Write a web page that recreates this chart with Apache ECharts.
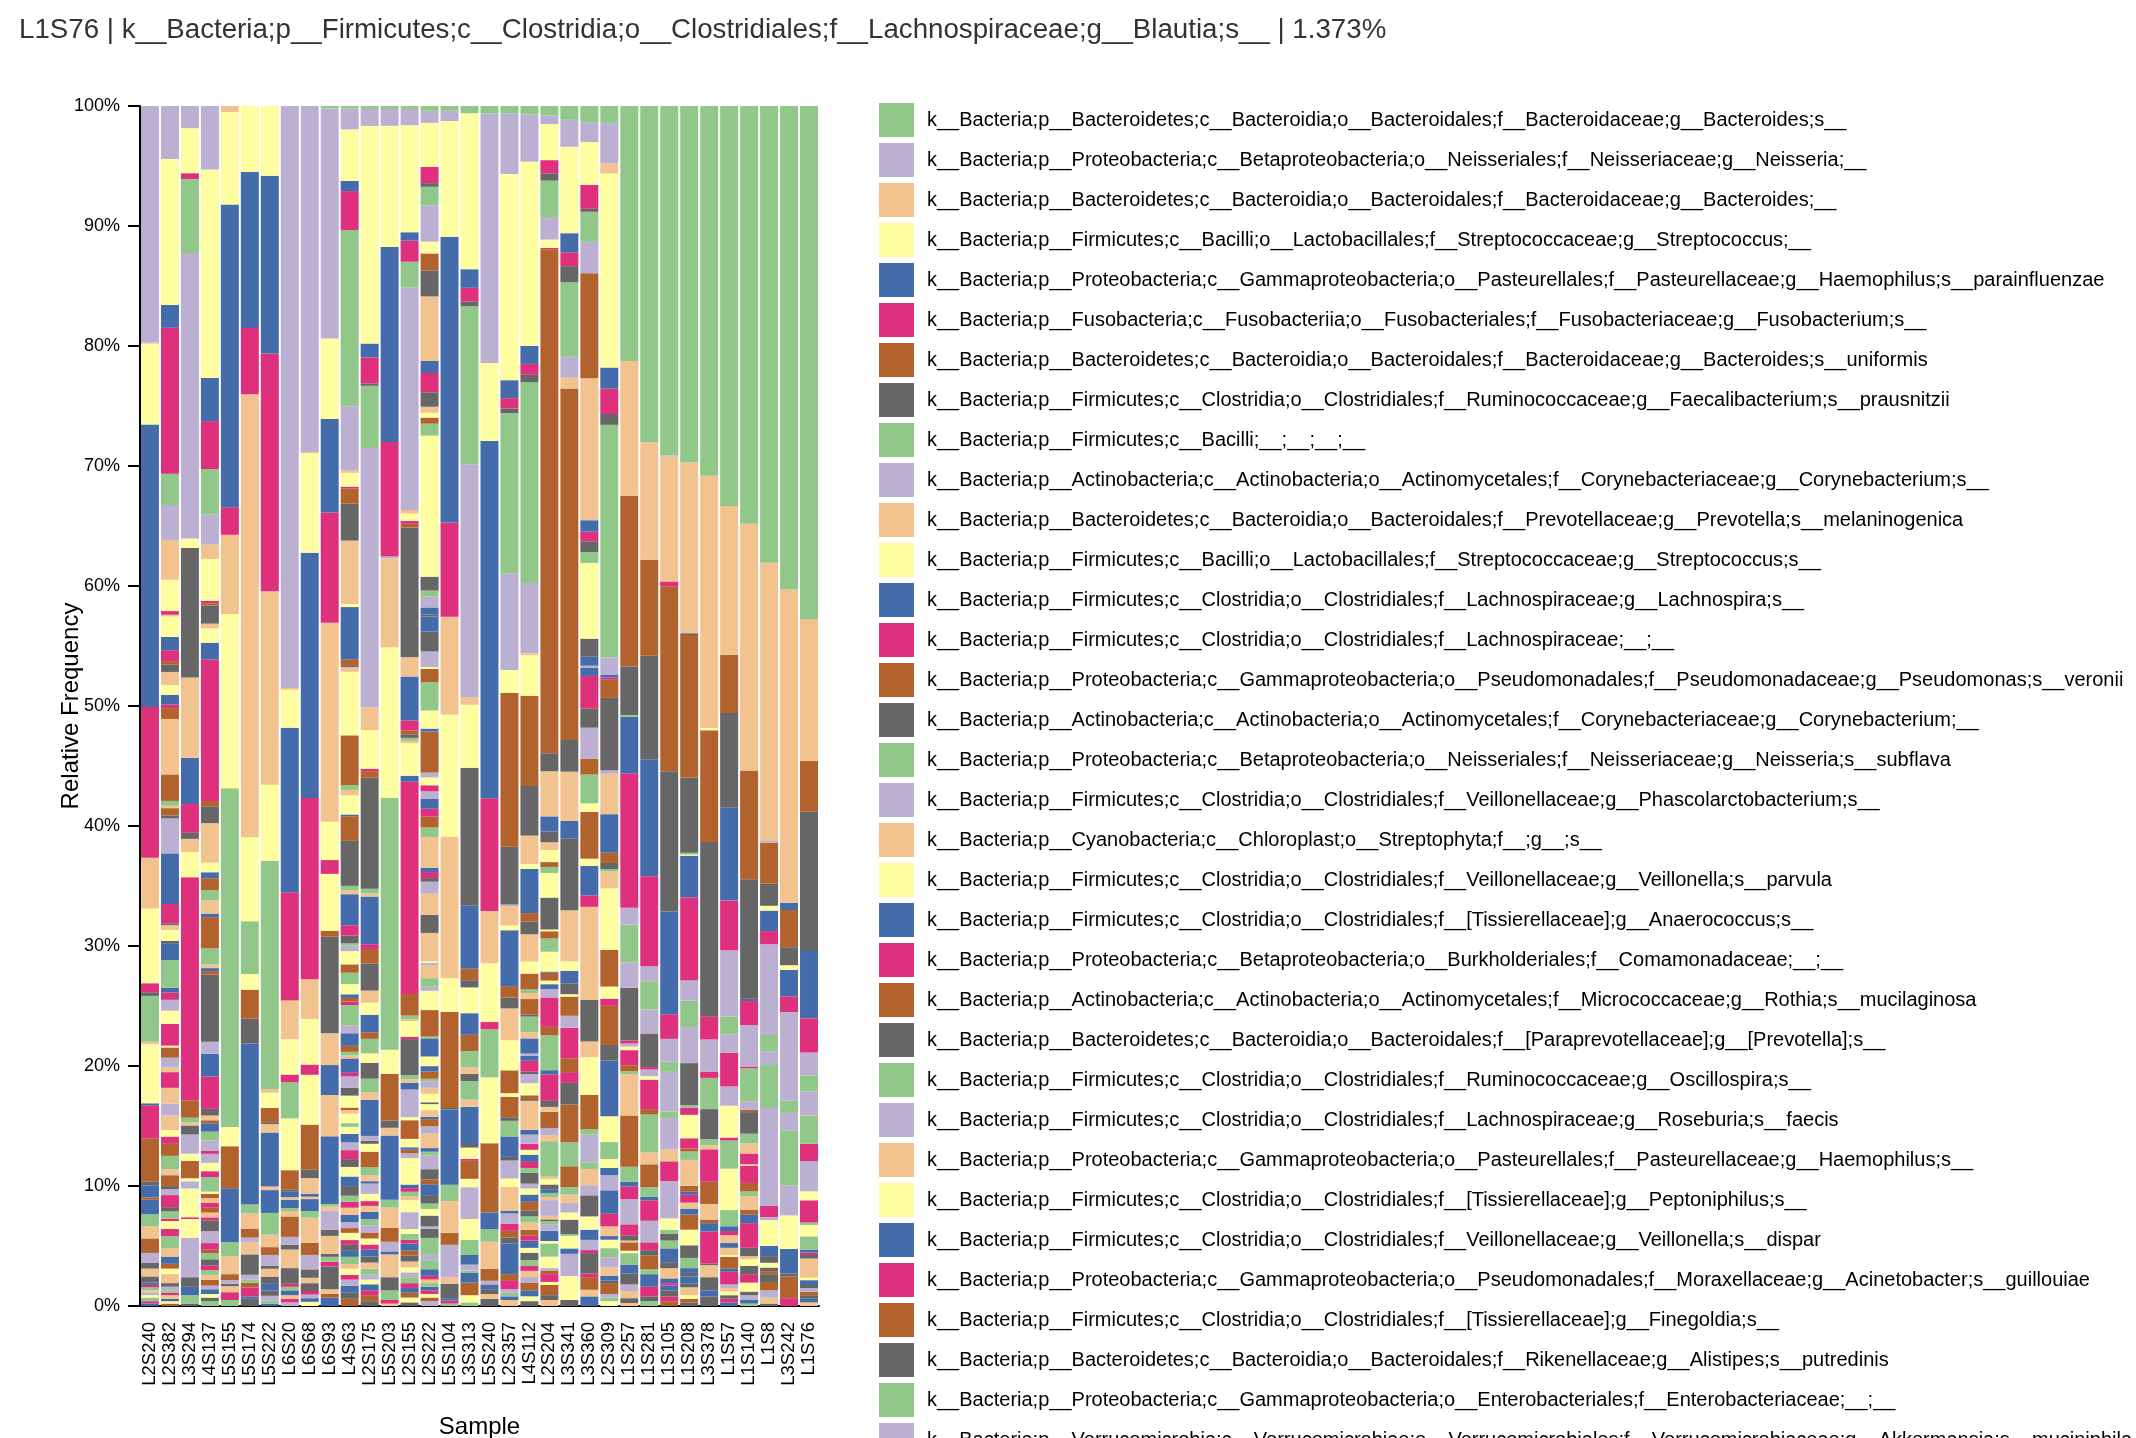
<!DOCTYPE html>
<html><head><meta charset="utf-8">
<script src="https://cdn.jsdelivr.net/npm/echarts/dist/echarts.min.js"></script>
<style>html,body{margin:0;padding:0;background:#fff}#chart{width:2136px;height:1438px}</style>
</head><body><div id="chart"></div>
<script>
const samples = ["L2S240","L2S382","L3S294","L4S137","L5S155","L5S174","L5S222","L6S20","L6S68","L6S93","L4S63","L2S175","L5S203","L2S155","L2S222","L5S104","L3S313","L5S240","L2S357","L4S112","L2S204","L3S341","L3S360","L2S309","L1S257","L1S281","L1S105","L1S208","L3S378","L1S57","L1S140","L1S8","L3S242","L1S76"];

const taxa = [
"k__Bacteria;p__Bacteroidetes;c__Bacteroidia;o__Bacteroidales;f__Bacteroidaceae;g__Bacteroides;s__",
"k__Bacteria;p__Proteobacteria;c__Betaproteobacteria;o__Neisseriales;f__Neisseriaceae;g__Neisseria;__",
"k__Bacteria;p__Bacteroidetes;c__Bacteroidia;o__Bacteroidales;f__Bacteroidaceae;g__Bacteroides;__",
"k__Bacteria;p__Firmicutes;c__Bacilli;o__Lactobacillales;f__Streptococcaceae;g__Streptococcus;__",
"k__Bacteria;p__Proteobacteria;c__Gammaproteobacteria;o__Pasteurellales;f__Pasteurellaceae;g__Haemophilus;s__parainfluenzae",
"k__Bacteria;p__Fusobacteria;c__Fusobacteriia;o__Fusobacteriales;f__Fusobacteriaceae;g__Fusobacterium;s__",
"k__Bacteria;p__Bacteroidetes;c__Bacteroidia;o__Bacteroidales;f__Bacteroidaceae;g__Bacteroides;s__uniformis",
"k__Bacteria;p__Firmicutes;c__Clostridia;o__Clostridiales;f__Ruminococcaceae;g__Faecalibacterium;s__prausnitzii",
"k__Bacteria;p__Firmicutes;c__Bacilli;__;__;__;__",
"k__Bacteria;p__Actinobacteria;c__Actinobacteria;o__Actinomycetales;f__Corynebacteriaceae;g__Corynebacterium;s__",
"k__Bacteria;p__Bacteroidetes;c__Bacteroidia;o__Bacteroidales;f__Prevotellaceae;g__Prevotella;s__melaninogenica",
"k__Bacteria;p__Firmicutes;c__Bacilli;o__Lactobacillales;f__Streptococcaceae;g__Streptococcus;s__",
"k__Bacteria;p__Firmicutes;c__Clostridia;o__Clostridiales;f__Lachnospiraceae;g__Lachnospira;s__",
"k__Bacteria;p__Firmicutes;c__Clostridia;o__Clostridiales;f__Lachnospiraceae;__;__",
"k__Bacteria;p__Proteobacteria;c__Gammaproteobacteria;o__Pseudomonadales;f__Pseudomonadaceae;g__Pseudomonas;s__veronii",
"k__Bacteria;p__Actinobacteria;c__Actinobacteria;o__Actinomycetales;f__Corynebacteriaceae;g__Corynebacterium;__",
"k__Bacteria;p__Proteobacteria;c__Betaproteobacteria;o__Neisseriales;f__Neisseriaceae;g__Neisseria;s__subflava",
"k__Bacteria;p__Firmicutes;c__Clostridia;o__Clostridiales;f__Veillonellaceae;g__Phascolarctobacterium;s__",
"k__Bacteria;p__Cyanobacteria;c__Chloroplast;o__Streptophyta;f__;g__;s__",
"k__Bacteria;p__Firmicutes;c__Clostridia;o__Clostridiales;f__Veillonellaceae;g__Veillonella;s__parvula",
"k__Bacteria;p__Firmicutes;c__Clostridia;o__Clostridiales;f__[Tissierellaceae];g__Anaerococcus;s__",
"k__Bacteria;p__Proteobacteria;c__Betaproteobacteria;o__Burkholderiales;f__Comamonadaceae;__;__",
"k__Bacteria;p__Actinobacteria;c__Actinobacteria;o__Actinomycetales;f__Micrococcaceae;g__Rothia;s__mucilaginosa",
"k__Bacteria;p__Bacteroidetes;c__Bacteroidia;o__Bacteroidales;f__[Paraprevotellaceae];g__[Prevotella];s__",
"k__Bacteria;p__Firmicutes;c__Clostridia;o__Clostridiales;f__Ruminococcaceae;g__Oscillospira;s__",
"k__Bacteria;p__Firmicutes;c__Clostridia;o__Clostridiales;f__Lachnospiraceae;g__Roseburia;s__faecis",
"k__Bacteria;p__Proteobacteria;c__Gammaproteobacteria;o__Pasteurellales;f__Pasteurellaceae;g__Haemophilus;s__",
"k__Bacteria;p__Firmicutes;c__Clostridia;o__Clostridiales;f__[Tissierellaceae];g__Peptoniphilus;s__",
"k__Bacteria;p__Firmicutes;c__Clostridia;o__Clostridiales;f__Veillonellaceae;g__Veillonella;s__dispar",
"k__Bacteria;p__Proteobacteria;c__Gammaproteobacteria;o__Pseudomonadales;f__Moraxellaceae;g__Acinetobacter;s__guillouiae",
"k__Bacteria;p__Firmicutes;c__Clostridia;o__Clostridiales;f__[Tissierellaceae];g__Finegoldia;s__",
"k__Bacteria;p__Bacteroidetes;c__Bacteroidia;o__Bacteroidales;f__Rikenellaceae;g__Alistipes;s__putredinis",
"k__Bacteria;p__Proteobacteria;c__Gammaproteobacteria;o__Enterobacteriales;f__Enterobacteriaceae;__;__",
"k__Bacteria;p__Verrucomicrobia;c__Verrucomicrobiae;o__Verrucomicrobiales;f__Verrucomicrobiaceae;g__Akkermansia;s__muciniphila"
];

// Color groups (legend cycles every 8): G green, P purple, O orange, Y yellow, B blue, K pink, R brown, D dark gray
const groupOrder = ["G","P","O","Y","B","K","R","D"];

// Segments of each sample, top to bottom: group, percent
const seg_L2S240 = ["P",19.6,"O",0.1,"Y",6.7,"B",23.4,"K",12.5,"O",4.2,"Y",6.2,"K",0.75,"D",0.3,"G",3.8,"O",0.2,"Y",4.9,"B",0.2,"K",2.7,"R",3.6,"D",0.3,"B",1.0,"R",0.2,"B",1.2,"G",1.0,"O",1.0,"R",1.2,"P",0.8,"D",0.5,"O",0.65,"D",0.5,"B",0.2,"K",0.2,"G",0.25,"O",0.2,"P",0.2,"Y",0.2,"G",0.3,"K",0.2,"B",0.2];
const seg_L2S382 = ["P",4.4,"Y",12.1,"B",1.9,"K",12.1,"G",2.6,"P",2.9,"O",3.3,"Y",2.6,"K",0.3,"O",0.15,"Y",1.7,"B",1.1,"K",0.9,"R",0.3,"D",0.6,"O",1.1,"Y",0.8,"B",0.8,"K",0.3,"R",0.9,"O",4.6,"R",2.2,"G",0.4,"O",0.2,"R",0.6,"D",0.25,"P",2.9,"B",4.2,"K",1.6,"D",0.15,"O",0.4,"Y",0.9,"D",0.2,"B",1.4,"G",2.3,"B",0.4,"K",0.6,"P",0.9,"Y",1.1,"K",1.8,"Y",0.15,"R",0.85,"P",0.8,"O",0.4,"K",1.3,"O",1.3,"P",1.0,"O",1.2,"Y",0.55,"K",0.6,"R",1.0,"G",1.1,"O",0.5,"R",0.9,"D",0.25,"P",0.5,"K",1.0,"D",0.35,"G",0.6,"K",0.2,"Y",0.65,"K",0.6,"G",1.0,"O",0.7,"B",0.6,"R",0.4,"Y",0.45,"O",0.75,"D",0.3,"P",0.3,"G",0.2,"K",0.2,"O",0.3,"B",0.2,"Y",0.2,"R",0.2];
const seg_L3S294 = ["P",1.85,"Y",3.75,"K",0.5,"G",6.15,"P",23.8,"Y",0.8,"D",10.8,"O",6.7,"B",3.85,"K",2.4,"D",0.5,"O",1.1,"Y",2.1,"K",18.6,"R",1.45,"G",0.4,"O",0.25,"D",0.75,"P",1.6,"Y",0.6,"R",1.45,"Y",0.25,"P",0.6,"Y",2.4,"K",0.15,"Y",1.55,"P",3.3,"D",0.8,"B",0.7,"G",0.7,"D",0.2];
const seg_L4S137 = ["P",5.3,"Y",17.4,"B",3.6,"K",4.0,"G",3.8,"P",2.5,"O",1.2,"Y",3.5,"K",0.2,"R",0.2,"D",1.5,"O",0.4,"Y",1.2,"B",1.4,"K",11.8,"R",0.45,"D",1.4,"O",3.3,"Y",0.8,"B",0.5,"R",1.0,"G",0.85,"O",1.1,"B",0.3,"R",2.6,"G",1.35,"O",0.3,"B",0.25,"R",0.3,"D",5.6,"P",1.0,"B",1.9,"K",2.7,"D",0.55,"O",0.4,"R",0.25,"B",0.7,"G",0.75,"P",0.85,"K",0.25,"P",0.75,"Y",0.7,"K",0.5,"G",1.2,"Y",0.2,"R",0.35,"O",0.4,"K",0.4,"R",0.4,"O",0.4,"K",0.25,"D",0.9,"P",1.0,"K",0.55,"R",0.3,"G",0.5,"D",0.5,"K",0.4,"G",0.4,"O",0.4,"R",0.5,"P",0.3,"B",0.4,"Y",0.3,"D",0.3,"G",0.4];
const seg_L5S155 = ["O",0.5,"Y",7.7,"B",25.2,"K",2.3,"O",6.6,"Y",14.5,"G",28.2,"Y",1.6,"R",3.5,"B",4.5,"G",1.15,"O",1.5,"R",0.5,"P",0.3,"D",0.2,"O",0.5,"K",0.65,"G",0.5];
const seg_L5S174 = ["Y",5.5,"B",13.0,"K",5.5,"O",36.9,"Y",7.0,"G",4.4,"Y",1.3,"R",2.4,"D",2.1,"B",13.4,"G",0.75,"O",1.25,"R",0.75,"P",0.4,"O",1.0,"D",1.7,"P",0.4,"G",0.25,"R",0.4,"K",0.75,"B",0.2,"D",0.6];
const seg_L5S222 = ["Y",5.8,"B",14.8,"K",19.8,"O",16.1,"Y",6.35,"G",19.0,"O",0.3,"Y",1.25,"R",1.2,"D",0.15,"O",0.7,"B",4.5,"O",0.3,"B",1.9,"G",1.8,"O",1.05,"R",0.65,"P",0.9,"D",0.25,"O",0.65,"D",0.55,"B",0.6,"D",0.45,"P",0.4,"G",0.25,"B",0.2];
const seg_L6S20 = ["P",48.4,"O",0.15,"Y",3.15,"B",13.7,"K",9.0,"O",3.2,"Y",2.95,"K",0.65,"G",3.0,"Y",4.3,"R",1.6,"D",0.2,"B",0.45,"O",0.2,"B",0.7,"G",0.25,"O",0.45,"R",1.7,"P",0.65,"D",0.4,"O",1.55,"D",1.3,"K",0.25,"G",0.3,"B",0.4,"O",0.3,"K",0.3,"P",0.3];
const seg_L6S68 = ["P",28.8,"O",0.1,"Y",8.3,"B",20.4,"K",15.1,"O",3.3,"Y",3.8,"K",0.85,"Y",4.15,"R",3.75,"D",0.7,"O",1.3,"B",0.25,"O",0.2,"B",1.0,"G",0.55,"O",2.1,"R",1.0,"P",1.2,"D",0.7,"O",0.45,"D",0.65,"K",0.3,"P",0.3,"B",0.3,"Y",0.35];
const seg_L6S93 = ["G",0.2,"P",19.2,"Y",6.7,"B",7.8,"K",9.2,"O",16.6,"Y",3.2,"K",1.15,"Y",4.75,"R",0.5,"D",8.05,"O",2.65,"B",2.5,"O",3.45,"B",5.65,"G",0.2,"O",0.35,"P",1.6,"D",0.5,"O",1.5,"D",0.25,"G",0.4,"K",0.4,"D",1.9,"O",0.4,"R",0.3,"B",0.7];
const seg_L4S63 = ["G",0.2,"P",1.75,"Y",4.3,"B",0.85,"K",3.25,"G",14.7,"P",5.35,"O",0.2,"Y",1.15,"K",0.15,"R",1.25,"D",3.1,"O",5.3,"Y",0.25,"B",4.35,"R",0.5,"D",0.15,"O",0.4,"Y",5.3,"R",4.15,"G",0.4,"O",0.45,"Y",1.6,"B",0.15,"R",2.05,"D",3.75,"G",0.4,"O",0.3,"B",2.6,"K",0.85,"D",0.65,"G",0.2,"P",0.45,"Y",1.1,"R",0.7,"G",0.95,"Y",0.85,"B",0.3,"R",0.3,"K",0.3,"G",1.7,"P",0.65,"B",1.05,"R",0.5,"G",0.3,"O",0.25,"B",1.2,"K",0.3,"P",0.95,"D",0.65,"Y",1.0,"R",0.2,"O",0.3,"Y",0.8,"G",0.3,"Y",0.6,"B",0.7,"P",0.65,"K",0.75,"D",0.65,"Y",0.8,"B",0.8,"D",0.8,"G",0.5,"K",0.5,"O",0.6,"B",0.6,"P",0.5,"R",0.4,"Y",0.6,"K",0.4,"D",0.5,"B",0.5,"G",0.6,"O",0.4,"Y",0.5,"K",0.4,"P",0.5,"B",0.6,"D",0.5,"R",0.6];
const seg_L2S175 = ["G",0.25,"P",1.4,"Y",18.05,"B",1.15,"K",2.15,"D",0.2,"G",5.15,"P",21.5,"O",1.9,"Y",3.2,"K",0.2,"R",0.55,"D",9.2,"G",0.4,"O",0.25,"B",3.95,"K",0.4,"R",1.2,"D",2.25,"O",1.0,"Y",1.0,"B",1.45,"R",0.55,"G",1.2,"Y",0.8,"D",1.3,"G",1.15,"O",0.6,"B",3.0,"P",0.4,"D",0.25,"Y",0.65,"R",1.3,"G",0.65,"O",0.5,"B",0.2,"P",0.85,"Y",0.6,"K",0.4,"O",0.5,"B",0.6,"G",0.5,"P",0.6,"R",0.5,"Y",0.5,"K",0.4,"B",0.6,"D",0.5,"O",0.5,"G",0.5,"P",0.4,"Y",0.4,"B",0.5,"K",0.4,"R",0.5,"D",0.4];
const seg_L5S203 = ["G",0.25,"P",1.4,"Y",10.1,"B",16.25,"K",9.55,"P",0.15,"O",7.4,"Y",12.55,"G",21.0,"Y",2.0,"R",3.9,"D",0.6,"O",0.65,"B",5.35,"G",0.65,"O",1.7,"R",1.15,"P",0.8,"B",0.25,"O",1.9,"D",1.1,"G",0.8,"K",0.3,"O",0.2];
const seg_L2S155 = ["G",0.25,"P",1.35,"Y",8.9,"B",0.7,"K",1.75,"G",2.15,"P",18.5,"O",0.3,"Y",0.6,"K",0.25,"R",0.3,"D",10.8,"O",1.6,"B",3.65,"K",0.85,"R",0.3,"D",0.3,"G",0.25,"O",0.2,"Y",2.7,"B",0.5,"K",17.65,"R",1.8,"G",0.3,"O",0.15,"Y",1.3,"K",0.2,"D",3.0,"G",0.35,"O",0.3,"B",0.55,"P",2.3,"Y",0.25,"R",1.55,"Y",0.7,"B",0.2,"R",0.3,"P",0.4,"Y",2.2,"B",0.3,"K",0.3,"G",0.4,"O",0.3,"Y",1.0,"P",1.4,"Y",0.4,"G",0.5,"K",0.3,"B",0.6,"R",0.4,"D",0.5,"O",0.5,"Y",0.4,"P",0.4,"G",0.5,"K",0.4,"B",0.4,"R",0.4,"Y",0.4,"D",0.3];
const seg_L2S222 = ["G",0.4,"P",1.0,"Y",3.65,"K",1.35,"D",0.3,"G",1.55,"P",3.0,"Y",0.9,"O",0.1,"R",1.4,"D",2.15,"O",5.35,"B",1.0,"K",1.6,"D",1.2,"O",0.5,"Y",0.4,"R",0.5,"G",1.0,"Y",11.7,"D",1.15,"G",0.5,"P",0.9,"B",0.6,"D",0.15,"B",1.25,"D",1.65,"P",1.3,"Y",0.15,"R",1.1,"G",2.35,"Y",1.5,"B",0.25,"R",3.4,"P",0.4,"Y",0.65,"K",0.5,"P",0.6,"B",0.85,"K",0.65,"R",0.9,"G",0.8,"O",2.55,"B",0.35,"K",0.5,"D",0.3,"P",1.0,"O",1.75,"D",1.5,"O",2.35,"Y",0.15,"P",0.2,"O",1.05,"G",0.7,"P",0.35,"Y",1.6,"R",2.2,"G",0.15,"B",1.5,"Y",0.8,"B",0.45,"R",0.6,"G",0.2,"P",0.55,"O",0.5,"Y",0.7,"D",0.15,"Y",0.5,"O",0.55,"B",0.2,"R",0.6,"P",0.6,"O",1.2,"B",0.3,"G",0.3,"P",1.15,"D",0.85,"R",0.4,"B",0.9,"D",0.7,"G",0.45,"Y",0.55,"D",0.9,"P",0.2,"D",0.75,"G",1.4,"P",0.45,"G",0.75,"B",0.55,"K",0.3,"O",0.3,"G",0.3,"B",0.3,"K",0.3,"Y",0.3,"R",0.3,"P",0.4];
const seg_L5S104 = ["G",0.4,"P",0.85,"Y",9.65,"B",23.8,"K",7.85,"O",8.15,"Y",10.15,"O",11.8,"Y",2.8,"R",8.0,"D",0.15,"B",6.25,"G",1.35,"O",2.65,"R",1.0,"P",2.7,"O",0.55,"D",1.2,"B",0.2,"K",0.25,"G",0.2];
const seg_L3S313 = ["G",0.6,"Y",13.0,"B",1.55,"K",1.15,"D",0.4,"G",13.15,"P",19.4,"O",0.65,"Y",5.25,"D",11.5,"B",5.25,"R",0.95,"D",0.6,"Y",2.15,"B",1.8,"R",1.35,"G",1.35,"O",0.55,"D",0.6,"G",1.55,"O",0.6,"B",3.1,"D",0.3,"Y",0.95,"K",0.15,"R",1.5,"Y",0.7,"P",2.65,"Y",1.75,"G",1.25,"B",0.8,"P",0.5,"G",0.2,"B",0.8,"R",1.05,"Y",0.6,"G",0.3];
const seg_L5S240 = ["G",0.6,"P",20.8,"Y",6.5,"B",29.75,"K",9.4,"O",4.35,"Y",4.9,"K",0.6,"G",4.0,"Y",5.5,"R",5.75,"B",1.4,"G",1.05,"O",2.25,"R",1.0,"P",0.3,"B",0.4,"D",0.4,"O",0.4,"D",0.6];
const seg_L2S357 = ["G",0.6,"P",5.05,"Y",17.15,"B",1.5,"K",0.85,"D",0.4,"G",13.35,"P",8.0,"Y",1.9,"R",12.8,"D",4.8,"P",0.15,"O",1.6,"Y",0.4,"B",4.65,"R",0.95,"D",0.9,"O",2.65,"Y",2.5,"R",1.9,"Y",0.3,"R",1.7,"D",0.3,"G",1.3,"B",1.7,"D",0.3,"P",1.5,"Y",0.7,"O",2.0,"B",0.2,"P",0.85,"K",0.6,"R",0.55,"D",0.5,"B",2.55,"R",0.5,"K",0.75,"P",0.3,"G",0.3,"B",0.3,"O",0.5];
const seg_L4S112 = ["G",0.7,"P",3.9,"Y",15.2,"B",1.5,"K",0.9,"D",0.6,"G",16.6,"P",5.8,"O",0.15,"Y",3.35,"R",7.45,"D",4.1,"O",2.35,"Y",0.4,"B",3.65,"R",0.7,"D",1.05,"O",2.25,"Y",1.0,"R",1.3,"G",0.3,"O",0.5,"R",1.3,"D",0.15,"G",1.3,"O",0.5,"B",1.25,"P",0.2,"B",0.4,"K",0.9,"D",0.2,"P",0.75,"Y",1.0,"R",0.3,"D",0.15,"O",2.4,"B",0.4,"P",0.75,"K",0.5,"Y",0.4,"B",0.6,"K",0.5,"G",0.4,"D",0.9,"P",0.4,"Y",0.5,"B",0.6,"R",0.7,"D",0.5,"G",0.5,"O",0.6,"R",0.5,"K",0.4,"B",0.6,"Y",0.4,"D",0.6,"G",0.5,"K",0.4,"O",0.5,"P",0.5,"R",0.6,"B",0.5,"Y",0.4,"D",0.4];
const seg_L2S204 = ["G",0.8,"P",0.7,"Y",3.0,"K",1.1,"D",0.6,"G",3.1,"P",1.8,"Y",0.7,"K",0.1,"R",41.9,"D",1.5,"O",3.75,"B",1.25,"D",0.9,"O",0.65,"Y",1.0,"R",0.4,"G",0.5,"Y",2.05,"D",2.65,"Y",0.15,"R",0.6,"G",1.1,"Y",1.65,"B",0.1,"R",0.65,"Y",0.3,"B",0.4,"P",0.7,"K",2.45,"R",0.7,"G",2.9,"B",0.35,"K",2.2,"D",0.5,"O",0.4,"R",1.35,"P",0.6,"O",0.5,"G",2.95,"O",0.2,"Y",0.45,"D",0.4,"B",0.3,"G",0.35,"O",0.25,"P",1.3,"O",0.3,"D",0.15,"G",0.3,"P",0.5,"B",0.85,"Y",0.2,"G",1.1,"Y",0.95,"P",0.2,"R",0.3,"K",0.65,"Y",0.25,"R",0.85,"D",0.4,"O",0.5];
const seg_L3S341 = ["G",1.15,"P",2.25,"Y",7.2,"B",1.6,"K",1.15,"D",1.35,"G",6.2,"P",1.75,"O",0.9,"R",29.3,"D",2.65,"O",4.1,"B",1.45,"D",6.0,"O",4.25,"Y",0.8,"B",1.05,"D",0.9,"Y",0.2,"R",1.6,"P",1.0,"K",2.55,"R",1.15,"K",0.9,"D",1.8,"R",3.15,"G",2.0,"R",1.75,"G",0.6,"O",0.7,"P",0.8,"Y",0.6,"D",1.2,"G",0.15,"Y",1.05,"B",0.45,"P",1.85,"Y",2.0,"D",0.5];
const seg_L3S360 = ["G",1.35,"P",1.65,"Y",3.55,"K",2.0,"D",0.25,"G",2.5,"P",2.6,"R",8.75,"O",11.8,"B",0.95,"K",0.8,"D",0.9,"G",0.9,"Y",6.3,"D",1.5,"B",0.75,"P",0.15,"B",0.7,"K",2.7,"D",1.6,"P",2.6,"R",1.3,"G",2.4,"Y",0.7,"R",3.9,"Y",0.6,"B",2.45,"K",0.95,"O",7.75,"D",3.45,"O",1.3,"Y",3.15,"R",2.85,"G",0.45,"P",2.3,"G",0.55,"O",1.35,"P",0.85,"D",1.75,"Y",1.1,"B",0.85,"P",0.85,"K",0.25,"D",1.7,"K",0.3,"R",1.05,"O",0.55,"B",0.8];
const seg_L2S309 = ["G",1.4,"P",3.35,"O",0.85,"Y",16.1,"B",1.75,"K",2.1,"D",0.9,"G",19.3,"P",1.45,"B",0.2,"K",0.2,"R",1.5,"D",6.0,"P",0.3,"O",3.35,"B",3.2,"R",0.85,"D",0.5,"G",0.2,"O",1.4,"Y",5.1,"R",3.05,"Y",1.0,"K",0.6,"R",3.25,"D",1.3,"B",4.6,"Y",2.15,"G",1.4,"Y",0.75,"B",0.6,"P",1.25,"B",1.95,"K",1.05,"O",0.8,"B",0.3,"Y",0.7,"G",0.75,"P",0.85,"O",0.7,"B",0.4,"D",0.2,"R",0.9,"P",0.3,"G",0.3,"Y",0.4];
const seg_L1S257 = ["G",21.25,"O",11.2,"R",14.2,"D",4.05,"G",0.15,"B",4.7,"K",11.2,"P",1.4,"G",3.15,"P",2.1,"D",4.4,"K",0.25,"P",0.25,"Y",0.3,"K",1.25,"R",0.5,"G",0.25,"O",3.45,"R",4.25,"G",1.25,"B",0.4,"K",1.05,"P",2.1,"K",0.95,"D",0.4,"O",0.15,"R",0.7,"Y",0.2,"G",0.95,"B",0.75,"D",0.9,"P",0.55,"O",0.6,"D",0.4,"O",0.25];
const seg_L1S281 = ["G",28.0,"O",9.8,"R",8.0,"D",8.6,"B",9.75,"K",7.5,"P",1.25,"G",2.35,"P",2.0,"D",2.8,"K",0.2,"P",0.55,"Y",0.3,"K",2.45,"R",0.45,"G",3.15,"O",1.0,"R",1.9,"G",0.8,"B",0.3,"K",1.7,"P",1.8,"K",0.65,"D",0.45,"R",1.15,"G",0.4,"B",1.05,"K",0.8,"D",0.4,"G",0.4];
const seg_L1S105 = ["G",29.1,"P",0.1,"O",10.4,"K",0.4,"R",15.4,"D",11.7,"B",8.55,"K",2.05,"P",1.9,"G",0.85,"P",3.3,"G",0.55,"P",2.6,"O",1.0,"K",1.65,"P",3.1,"Y",0.95,"G",0.35,"D",0.55,"G",0.65,"B",1.15,"D",0.5,"O",0.85,"B",0.4,"K",0.2,"B",0.4,"D",0.5,"K",0.4,"R",0.4];
const seg_L1S208 = ["G",29.65,"O",14.2,"D",0.15,"R",11.85,"D",6.25,"G",0.15,"Y",0.1,"B",3.45,"K",6.9,"P",1.7,"G",2.2,"P",3.0,"D",3.5,"G",0.2,"K",0.6,"Y",1.95,"K",0.85,"R",0.25,"G",0.7,"O",2.15,"R",0.5,"B",0.25,"K",0.65,"O",0.5,"B",0.5,"R",1.25,"Y",1.3,"D",1.05,"G",0.85,"B",0.4,"D",0.3,"B",0.6,"D",0.3,"O",0.65,"Y",0.3,"R",0.3,"D",0.3];
const seg_L3S378 = ["G",30.8,"O",21.0,"Y",0.2,"R",9.3,"D",14.55,"K",1.9,"P",2.7,"K",0.5,"G",2.6,"D",2.5,"G",0.5,"O",0.35,"K",2.7,"R",1.85,"O",1.3,"R",0.3,"B",0.7,"K",2.65,"D",0.15,"O",1.0,"D",1.1,"B",0.5,"D",0.8];
const seg_L1S57 = ["G",33.35,"O",12.4,"R",4.85,"D",7.9,"B",7.75,"K",4.15,"P",5.5,"G",1.5,"P",1.55,"K",2.8,"P",1.6,"Y",2.65,"K",0.25,"G",2.35,"Y",3.45,"G",1.35,"B",0.4,"K",0.35,"O",0.65,"B",0.4,"O",0.6,"Y",0.15,"R",1.0,"B",0.25,"K",1.05,"P",0.3,"O",0.3,"Y",0.3,"D",0.3,"K",0.3,"B",0.3];
const seg_L1S140 = ["G",34.8,"O",20.55,"R",9.05,"D",9.95,"B",0.2,"K",2.0,"P",3.45,"K",0.15,"G",2.75,"P",0.7,"R",0.2,"D",1.8,"G",0.8,"O",0.85,"K",0.9,"Y",0.1,"K",1.45,"R",0.7,"G",0.4,"O",1.15,"R",0.4,"B",0.7,"K",2.05,"D",0.7,"O",0.25,"Y",0.55,"D",0.7,"K",0.7,"Y",0.75,"D",0.3,"P",0.4,"B",0.3,"G",0.2];
const seg_L1S8 = ["G",38.0,"O",23.15,"P",0.15,"R",3.4,"D",1.85,"Y",0.4,"B",1.7,"K",1.1,"P",7.55,"G",1.35,"P",1.15,"G",3.5,"P",8.2,"K",0.95,"P",0.25,"Y",2.15,"B",0.85,"D",0.55,"Y",0.4,"D",0.3,"R",0.25,"D",0.65,"R",0.7,"P",0.6,"O",0.5,"D",0.2];
const seg_L3S242 = ["G",40.3,"O",26.1,"B",0.6,"R",3.1,"D",1.5,"Y",0.4,"B",2.2,"K",1.3,"P",7.4,"G",1.0,"P",1.45,"G",4.6,"P",2.5,"Y",2.8,"B",2.05,"D",0.25,"R",1.8,"K",0.65];
const seg_L1S76 = ["G",42.7,"O",11.8,"R",4.25,"D",11.6,"B",5.6,"K",2.85,"P",1.9,"G",1.35,"P",2.0,"G",2.35,"K",1.45,"P",2.5,"Y",0.75,"K",1.85,"G",0.2,"Y",0.95,"G",1.1,"B",0.25,"K",0.2,"D",0.3,"O",1.6,"Y",0.2,"B",0.4,"D",0.25,"P",0.3,"R",0.3,"D",0.3,"B",0.3,"O",0.3];

const sampleSegments = [seg_L2S240,seg_L2S382,seg_L3S294,seg_L4S137,seg_L5S155,seg_L5S174,seg_L5S222,seg_L6S20,seg_L6S68,seg_L6S93,seg_L4S63,seg_L2S175,seg_L5S203,seg_L2S155,seg_L2S222,seg_L5S104,seg_L3S313,seg_L5S240,seg_L2S357,seg_L4S112,seg_L2S204,seg_L3S341,seg_L3S360,seg_L2S309,seg_L1S257,seg_L1S281,seg_L1S105,seg_L1S208,seg_L3S378,seg_L1S57,seg_L1S140,seg_L1S8,seg_L3S242,seg_L1S76];

const colors = {G:"#91c788",P:"#bbafd2",O:"#f3c38f",Y:"#fefea0",B:"#456caa",K:"#de307d",R:"#b2622d",D:"#666666"};
const FONT = "'Liberation Sans', Arial, Helvetica, sans-serif";

// parse segments, normalise each sample to relative frequency (%)
const parsed = sampleSegments.map(arr => {
  const segs = [];
  for (let i = 0; i < arr.length; i += 2) segs.push({g: arr[i], v: arr[i+1]});
  const tot = segs.reduce((s, x) => s + x.v, 0);
  segs.forEach(x => x.v = x.v * 100 / tot);
  return segs;
});
const maxSlots = Math.max(...parsed.map(s => s.length));

const series = [];
// legend entries (taxa)
taxa.forEach((name, i) => {
  series.push({name, type: 'bar', stack: 'all', data: [], barCategoryGap: '10%',
    itemStyle: {color: colors[groupOrder[i % 8]]}});
});
// stacked segments: deepest slot first so slot 0 ends on top
for (let k = maxSlots - 1; k >= 0; k--) {
  series.push({
    name: 'slot' + k, type: 'bar', stack: 'all', barCategoryGap: '10%', silent: true,
    emphasis: {disabled: true},
    data: parsed.map(segs => {
      const s = segs[k];
      if (!s) return {value: 0};
      return {value: s.v, itemStyle: {color: colors[s.g]}};
    })
  });
}

const chart = echarts.init(document.getElementById('chart'), null, {renderer: 'canvas'});
chart.setOption({
  animation: false,
  backgroundColor: '#ffffff',
  textStyle: {fontFamily: FONT},
  title: {
    text: 'L1S76 | k__Bacteria;p__Firmicutes;c__Clostridia;o__Clostridiales;f__Lachnospiraceae;g__Blautia;s__ | 1.373%',
    left: 14, top: 11,
    textStyle: {fontSize: 27.7, fontWeight: 'normal', color: '#333333', fontFamily: FONT}
  },
  legend: {
    data: taxa, orient: 'vertical', left: 874, top: 98, height: 2400,
    itemWidth: 35, itemHeight: 34, itemGap: 6, icon: 'rect', selectedMode: false,
    textStyle: {fontSize: 20, color: '#000', fontFamily: FONT, padding: [0, 0, 0, 8]}
  },
  grid: {left: 140, top: 106, width: 679, height: 1200, containLabel: false, outerBoundsMode: 'none'},
  xAxis: {
    type: 'category', data: samples,
    name: 'Sample', nameLocation: 'middle', nameGap: 109, nameMoveOverlap: false,
    nameTextStyle: {fontSize: 24, color: '#000', fontFamily: FONT},
    axisLine: {lineStyle: {color: '#000', width: 2}},
    axisTick: {alignWithLabel: true, length: 11, lineStyle: {color: '#000', width: 2}},
    axisLabel: {rotate: 90, interval: 0, fontSize: 18.5, color: '#000', margin: 16, fontFamily: FONT}
  },
  yAxis: {
    type: 'value', min: 0, max: 100, interval: 10,
    name: 'Relative Frequency', nameLocation: 'middle', nameGap: 57, nameRotate: 90, nameMoveOverlap: false,
    nameTextStyle: {fontSize: 24, color: '#000', fontFamily: FONT},
    axisLine: {show: true, lineStyle: {color: '#000', width: 2}},
    axisTick: {show: true, length: 12, lineStyle: {color: '#000', width: 2}},
    splitLine: {show: false},
    axisLabel: {formatter: '{value}%', fontSize: 18, color: '#000', margin: 20, fontFamily: FONT}
  },
  series
});
</script></body></html>
